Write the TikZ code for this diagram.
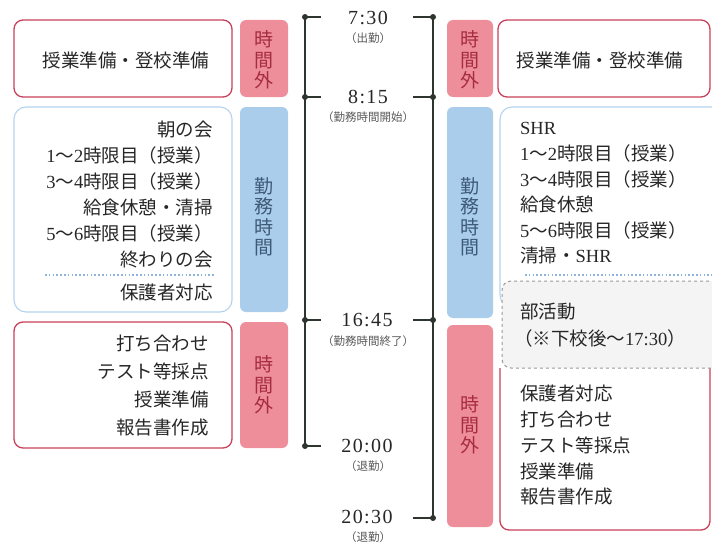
\documentclass[tikz,border=0pt]{standalone}
\usepackage{fontspec}
\setmainfont{Liberation Serif}
\newfontfamily\jp{Noto Sans CJK JP}
\newfontfamily\tm{Liberation Serif}[LetterSpace=7]
\newcommand\dg[1]{{\rmfamily #1}}

\definecolor{boxred}{HTML}{C8405A}
\definecolor{tagred}{HTML}{EE8E9A}
\definecolor{tagredtxt}{HTML}{A62C42}
\definecolor{boxblue}{HTML}{B4D2EE}
\definecolor{sepblue}{HTML}{8DB4DC}
\definecolor{tagblue}{HTML}{A9CDEA}
\definecolor{tagbluetxt}{HTML}{3E5A78}
\definecolor{clubgray}{HTML}{9A9A9A}
\definecolor{clubfill}{HTML}{F4F4F4}
\definecolor{tline}{HTML}{2E352E}
\definecolor{txt}{HTML}{262626}

\tikzset{
  box/.style={inner sep=0pt, outer sep=0pt, anchor=north west},
  redbox/.style={box, draw=boxred, line width=1.3pt, rounded corners=9pt, fill=white},
  bluebox/.style={box, draw=boxblue, line width=1.1pt, rounded corners=12pt},
  clubbox/.style={box, draw=clubgray, dashed, line width=1pt, rounded corners=9pt, fill=clubfill},
  redtag/.style={box, fill=tagred, rounded corners=6pt},
  bluetag/.style={box, fill=tagblue, rounded corners=6pt},
  tagtext/.style={font=\jp\fontsize{19}{20.5}\selectfont, align=center, inner sep=0pt},
  item/.style={font=\jp\fontsize{18.5}{18.5}\selectfont, text=txt, inner sep=0pt},
  sepline/.style={draw=sepblue, line width=1.6pt, dash pattern=on 1.6pt off 2.2pt},
  dot/.style={circle, fill=tline, inner sep=0pt, minimum size=6pt},
  tline/.style={draw=tline, line width=1.6pt},
  timelabel/.style={font=\tm\fontsize{20}{20}\selectfont, text=txt, inner sep=0pt},
  sublabel/.style={font=\jp\fontsize{11.5}{11.5}\selectfont, text=black!65, inner sep=0pt},
}

\begin{document}
\begin{tikzpicture}[x=1pt, y=-1pt]
    \useasboundingbox (0,0) rectangle (712,543);

    % left column
    \node[redbox, minimum width=218pt, minimum height=77pt] (lprep) at (14,20) {};
    \node[redtag, minimum width=48pt, minimum height=77pt] (lpreptag) at (240,20) {};
    \node[bluebox, minimum width=218pt, minimum height=205pt] (lduty) at (14,107) {};
    \node[bluetag, minimum width=48pt, minimum height=205pt] (ldutytag) at (240,107) {};
    \node[redbox, minimum width=218pt, minimum height=126pt] (lafter) at (14,322) {};
    \node[redtag, minimum width=48pt, minimum height=126pt] (laftertag) at (240,322) {};

    \node[item] (lpreptext) at (126,60) {授業準備・登校準備};
    \node[tagtext, text=tagredtxt] (lpreptagtext) at (264,60) {時\\間\\外};
    \node[tagtext, text=tagbluetxt] (ldutytagtext) at (264,217) {勤\\務\\時\\間};
    \node[tagtext, text=tagredtxt] (laftertagtext) at (264,385) {時\\間\\外};

    \foreach \t [count=\i] in {朝の会, {\dg{1}〜\dg{2}時限目（授業）}, {\dg{3}〜\dg{4}時限目（授業）},
        給食休憩・清掃, {\dg{5}〜\dg{6}時限目（授業）}, 終わりの会}
        \node[item, anchor=east] (ld\i) at (213,{129+26.2*(\i-1)}) {\t};
    \coordinate (lsepa) at (45,275);
    \coordinate (lsepb) at (215,275);
    \draw[sepline] (lsepa) -- (lsepb);
    \node[item, anchor=east] (ld7) at (213,292) {保護者対応};

    \foreach \t [count=\i] in {打ち合わせ, テスト等採点, 授業準備, 報告書作成}
        \node[item, anchor=east] (la\i) at (209,{343+28.3*(\i-1)}) {\t};

    % right column
    \node[redtag, minimum width=46pt, minimum height=77pt] (rpreptag) at (447,20) {};
    \node[redbox, minimum width=212pt, minimum height=77pt] (rprep) at (498,20) {};
    \node[bluetag, minimum width=46pt, minimum height=211pt] (rdutytag) at (447,107) {};
    \node[bluebox, minimum width=240pt, minimum height=200pt] (rduty) at (500,107) {};
    \node[redtag, minimum width=46pt, minimum height=202pt] (raftertag) at (447,325) {};
    \draw[draw=boxred, line width=1.3pt, rounded corners=9pt] (500,368) -- (500,530) -- (710,530) -- (710,368);
    \node[clubbox, minimum width=240pt, minimum height=87pt] (rclub) at (502,281) {};

    \node[item] (rpreptext) at (600,60) {授業準備・登校準備};
    \node[tagtext, text=tagredtxt] (rpreptagtext) at (470,60) {時\\間\\外};
    \node[tagtext, text=tagbluetxt] (rdutytagtext) at (470,217) {勤\\務\\時\\間};
    \node[tagtext, text=tagredtxt] (raftertagtext) at (470,425) {時\\間\\外};

    \foreach \t [count=\i] in {\dg{SHR}, {\dg{1}〜\dg{2}時限目（授業）}, {\dg{3}〜\dg{4}時限目（授業）},
        給食休憩, {\dg{5}〜\dg{6}時限目（授業）}, 清掃・\dg{SHR}}
        \node[item, anchor=west] (rd\i) at (520,{128+25.5*(\i-1)}) {\t};
    \coordinate (rsepa) at (525,275);
    \coordinate (rsepb) at (712,275);
    \draw[sepline] (rsepa) -- (rsepb);

    \node[item, anchor=west] (rc1) at (520,312) {部活動};
    \node[item, anchor=west] (rc2) at (514,338) {（※下校後〜\dg{17:30}）};

    \foreach \t [count=\i] in {保護者対応, 打ち合わせ, テスト等採点, 授業準備, 報告書作成}
        \node[item, anchor=west] (ra\i) at (520,{393+26*(\i-1)}) {\t};

    % time line
    \foreach \n/\y in {a/17, b/97, c/320, d/446} {
        \node[dot] (l\n) at (305,\y) {};
        \coordinate (lt\n) at (321,\y);
    }
    \foreach \n/\y in {a/17, b/97, c/320, e/518} {
        \node[dot] (r\n) at (433,\y) {};
        \coordinate (rt\n) at (413,\y);
    }
    \draw[tline] (la.center) -- (ld.center);
    \draw[tline] (ra.center) -- (re.center);
    \foreach \n in {a,b,c,d}
        \draw[tline] (l\n.center) -- (lt\n);
    \foreach \n in {a,b,c,e}
        \draw[tline] (rt\n) -- (r\n.center);

    \node[timelabel] (t730) at (368,18) {7:30};
    \node[sublabel] (s730) at (368,38) {（出勤）};
    \node[timelabel] (t815) at (368,97) {8:15};
    \node[sublabel] (s815) at (368,117) {（勤務時間開始）};
    \node[timelabel] (t1645) at (367,320) {16:45};
    \node[sublabel] (s1645) at (368,341) {（勤務時間終了）};
    \node[timelabel] (t2000) at (367,446) {20:00};
    \node[sublabel] (s2000) at (368,466) {（退勤）};
    \node[timelabel] (t2030) at (367,517) {20:30};
    \node[sublabel] (s2030) at (368,537) {（退勤）};
\end{tikzpicture}
\end{document}
